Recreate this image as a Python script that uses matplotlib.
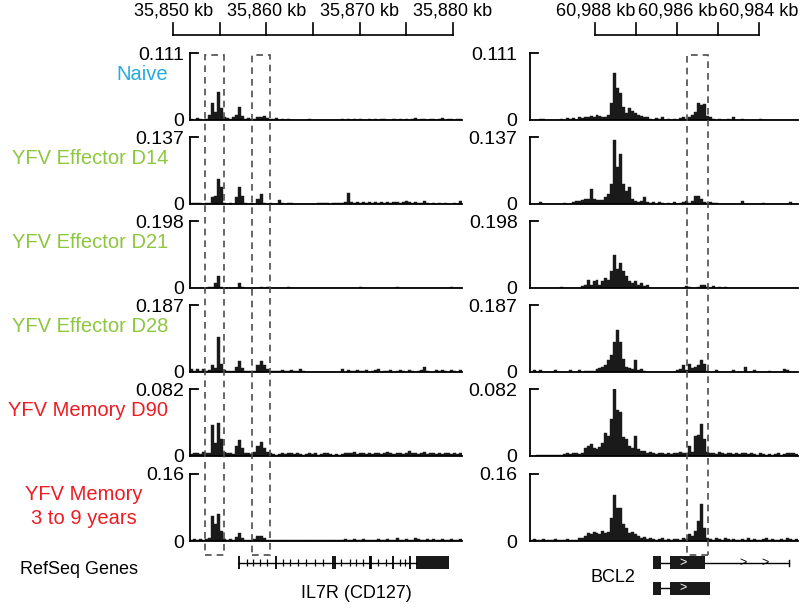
import numpy as np
import matplotlib
matplotlib.use('Agg')
import matplotlib.pyplot as plt
from matplotlib.patches import Rectangle
from matplotlib.transforms import blended_transform_factory

plt.rcParams['font.family'] = ['Liberation Sans', 'DejaVu Sans']

# --- data -------------------------------------------------------------
samples = ['Naive', 'YFV Effector D14', 'YFV Effector D21', 'YFV Effector D28',
           'YFV Memory D90', 'YFV Memory\n3 to 9 years']
sample_colors = ['#27aae1', '#8dc63f', '#8dc63f', '#8dc63f', '#ed1c24', '#ed1c24']
y_max = [0.111, 0.137, 0.198, 0.187, 0.082, 0.16]
y_max_labels = ['0.111', '0.137', '0.198', '0.187', '0.082', '0.16']

# genomic windows (kb)
il7r_range = (35851.8, 35881.0)
bcl2_range = (60989.6, 60983.05)   # minus strand, drawn reversed
il7r_scale_ticks = [35850, 35855, 35860, 35865, 35870, 35875, 35880]
il7r_scale_labels = ['35,850 kb', '35,860 kb', '35,870 kb', '35,880 kb']
bcl2_scale_ticks = [60988, 60987, 60986, 60985, 60984]
bcl2_scale_labels = ['60,988 kb', '60,986 kb', '60,984 kb']

# highlighted regions (kb)
il7r_boxes = [(35853.4, 35855.45), (35858.45, 35860.4)]
bcl2_boxes = [(60985.76, 60985.24)]

# signal, % of each track's max, 90 equal bins over the window
il7r_naive = [2, 0, 3, 1, 0, 2, 8, 25, 12, 42,
              18, 4, 3, 2, 4, 8, 20, 6, 2, 3,
              1, 2, 5, 4, 6, 3, 2, 1, 3, 0,
              2, 0, 1, 0, 0, 0, 0, 0, 0, 2,
              0, 0, 0, 0, 0, 0, 0, 0, 0, 0,
              1, 0, 1, 0, 2, 0, 1, 0, 0, 2,
              0, 1, 0, 1, 2, 0, 0, 1, 0, 1,
              0, 2, 0, 1, 3, 0, 1, 2, 0, 1,
              2, 0, 1, 3, 0, 2, 1, 0, 2, 1]
il7r_d14 = [1, 1, 1, 1, 0, 1, 2, 10, 12, 38,
            25, 2, 0, 1, 0, 10, 25, 12, 2, 0,
            1, 0, 8, 15, 2, 0, 1, 0, 0, 6,
            2, 0, 2, 2, 0, 0, 0, 0, 0, 0,
            0, 0, 1, 1, 2, 1, 0, 2, 2, 1,
            2, 3, 17, 3, 2, 3, 2, 3, 1, 3,
            2, 3, 2, 3, 2, 3, 2, 3, 3, 2,
            3, 5, 3, 2, 3, 2, 2, 5, 2, 0,
            2, 0, 2, 0, 2, 0, 0, 2, 0, 5]
il7r_d21 = [0, 0, 0, 0, 0, 0, 1, 2, 8, 18,
            1, 0, 0, 0, 0, 0, 8, 1, 0, 0,
            0, 0, 0, 1, 0, 1, 0, 0, 0, 0,
            0, 0, 2, 0, 0, 0, 0, 0, 0, 0,
            0, 0, 0, 0, 0, 0, 0, 0, 0, 0,
            0, 0, 0, 0, 0, 0, 2, 0, 0, 0,
            0, 0, 0, 0, 0, 0, 0, 0, 2, 0,
            0, 0, 0, 0, 0, 0, 0, 0, 0, 0,
            0, 0, 0, 0, 0, 0, 2, 0, 0, 0]
il7r_d28 = [5, 2, 4, 1, 5, 2, 3, 10, 6, 52,
            12, 3, 1, 2, 1, 8, 17, 6, 2, 1,
            2, 1, 10, 17, 10, 4, 1, 2, 1, 2,
            3, 2, 2, 3, 2, 2, 5, 1, 0, 0,
            0, 0, 0, 0, 0, 0, 0, 0, 0, 0,
            4, 0, 3, 1, 2, 3, 1, 2, 3, 0,
            2, 3, 4, 0, 2, 1, 3, 0, 2, 3,
            2, 0, 3, 2, 0, 2, 3, 7, 2, 0,
            0, 3, 2, 3, 2, 0, 3, 2, 0, 3]
il7r_d90 = [3, 4, 5, 3, 6, 4, 5, 46, 20, 50,
            25, 6, 5, 4, 3, 15, 24, 12, 5, 4,
            3, 6, 15, 21, 12, 6, 4, 3, 2, 3,
            4, 3, 5, 4, 3, 4, 3, 2, 3, 4,
            3, 4, 2, 3, 4, 5, 3, 2, 3, 2,
            3, 4, 5, 4, 6, 3, 4, 5, 3, 4,
            3, 5, 4, 3, 4, 6, 4, 3, 4, 5,
            3, 4, 7, 4, 5, 3, 4, 6, 3, 4,
            5, 3, 4, 3, 5, 4, 3, 4, 3, 5]
il7r_mem = [2, 3, 2, 3, 2, 3, 4, 37, 25, 41,
            15, 3, 2, 3, 2, 6, 12, 4, 2, 1,
            2, 3, 8, 7, 4, 2, 1, 2, 1, 2,
            2, 1, 2, 1, 2, 2, 1, 2, 2, 1,
            1, 2, 1, 2, 1, 2, 2, 1, 2, 2,
            2, 3, 2, 1, 3, 2, 2, 3, 2, 2,
            2, 2, 3, 2, 2, 3, 2, 2, 4, 2,
            2, 3, 2, 2, 4, 3, 2, 2, 3, 2,
            3, 2, 2, 3, 2, 2, 3, 2, 2, 3]

bcl2_naive = [0, 0, 0, 2, 2, 0, 0, 0, 0, 0,
              2, 0, 3, 2, 3, 0, 4, 3, 5, 4,
              6, 5, 7, 6, 4, 5, 8, 25, 70, 48,
              40, 20, 10, 18, 14, 10, 7, 6, 5, 4,
              2, 0, 3, 2, 5, 0, 2, 0, 2, 0,
              3, 4, 2, 4, 8, 12, 25, 22, 24, 6,
              5, 2, 0, 2, 0, 0, 2, 0, 4, 0,
              0, 2, 0, 0, 0, 0, 0, 2, 0, 0,
              0, 0, 0, 0, 0, 0, 0, 0, 0, 0]
bcl2_d14 = [0, 0, 0, 3, 0, 0, 0, 0, 0, 0,
            0, 2, 0, 0, 3, 5, 4, 6, 8, 8,
            22, 8, 6, 6, 6, 10, 15, 30, 96, 55,
            74, 30, 20, 25, 8, 5, 3, 5, 10, 3,
            2, 3, 0, 3, 2, 0, 2, 0, 3, 0,
            2, 3, 4, 2, 5, 12, 12, 8, 3, 2,
            3, 2, 2, 0, 0, 0, 0, 0, 0, 0,
            0, 4, 0, 0, 0, 0, 0, 0, 2, 0,
            0, 0, 0, 0, 0, 0, 0, 3, 0, 0]
bcl2_d21 = [0, 0, 0, 0, 0, 0, 0, 0, 0, 0,
            2, 0, 0, 0, 0, 0, 0, 3, 4, 12,
            5, 10, 12, 5, 10, 15, 12, 25, 49, 28,
            37, 25, 18, 10, 8, 10, 4, 8, 3, 5,
            0, 0, 0, 0, 0, 0, 0, 0, 0, 0,
            0, 0, 3, 2, 0, 0, 2, 4, 5, 2,
            0, 3, 0, 2, 0, 2, 0, 0, 0, 0,
            0, 0, 0, 0, 0, 0, 0, 0, 0, 0,
            0, 0, 0, 0, 0, 0, 0, 0, 0, 0]
bcl2_d28 = [0, 3, 0, 3, 0, 0, 0, 0, 3, 0,
            0, 0, 0, 3, 0, 0, 3, 0, 2, 2,
            2, 2, 4, 6, 8, 10, 18, 25, 45, 63,
            45, 20, 8, 6, 4, 18, 3, 4, 2, 0,
            0, 0, 0, 0, 0, 0, 0, 0, 0, 3,
            5, 10, 3, 12, 6, 8, 10, 18, 12, 2,
            0, 0, 3, 0, 0, 0, 0, 0, 3, 0,
            0, 0, 8, 0, 0, 3, 0, 0, 0, 0,
            2, 0, 0, 0, 0, 4, 3, 0, 0, 0]
bcl2_d90 = [0, 0, 1, 2, 1, 2, 1, 1, 2, 1,
            2, 3, 4, 3, 4, 5, 3, 5, 12, 15,
            18, 12, 10, 14, 20, 35, 30, 55, 100, 69,
            65, 28, 25, 15, 12, 30, 10, 8, 8, 5,
            6, 4, 3, 4, 5, 3, 4, 3, 5, 4,
            6, 4, 5, 15, 6, 30, 32, 48, 25, 6,
            4, 5, 3, 6, 4, 3, 5, 4, 3, 4,
            3, 4, 5, 3, 4, 3, 2, 4, 3, 2,
            3, 2, 3, 4, 2, 3, 4, 5, 4, 3]
bcl2_mem = [2, 3, 1, 2, 3, 2, 1, 2, 3, 2,
            1, 2, 3, 2, 1, 2, 4, 4, 8, 12,
            10, 14, 12, 10, 15, 12, 14, 35, 68, 50,
            50, 25, 20, 12, 14, 10, 8, 5, 6, 3,
            4, 3, 2, 3, 4, 2, 3, 2, 3, 3,
            2, 4, 3, 10, 8, 15, 30, 55, 20, 5,
            3, 2, 4, 3, 2, 5, 3, 2, 3, 2,
            2, 3, 2, 4, 2, 3, 2, 2, 3, 4,
            2, 3, 2, 2, 3, 2, 4, 3, 2, 3]

il7r_tracks = [il7r_naive, il7r_d14, il7r_d21, il7r_d28, il7r_d90, il7r_mem]
bcl2_tracks = [bcl2_naive, bcl2_d14, bcl2_d21, bcl2_d28, bcl2_d90, bcl2_mem]

# gene models (kb)
il7r_tx = (35857.08, 35876.09, 35879.58)   # start, last exon start, end
il7r_exons = [35857.08, 35861.01, 35867.15, 35867.34, 35871.09, 35871.27,
              35873.59, 35875.37]
il7r_arrows = [35857.87, 35858.58, 35859.30, 35860.02, 35861.80, 35862.51,
               35863.41, 35864.30, 35865.19, 35866.08, 35868.05, 35868.94,
               35869.66, 35870.37, 35871.98, 35872.87, 35874.30, 35874.84]
bcl2_small_exon = (60986.59, 60986.41)
bcl2_tx1_block = (60986.17, 60985.32)
bcl2_tx2_block = (60986.17, 60985.20)
bcl2_tx1_end = 60983.27
bcl2_tx1_arrows = [60984.39, 60983.85]
bcl2_block_arrow = 60985.85

# --- layout -----------------------------------------------------------
W, H = 800, 609
fig = plt.figure(figsize=(W / 100, H / 100), dpi=100)


def px_axes(x0, y0, x1, y1):
    return fig.add_axes([x0 / W, 1 - y1 / H, (x1 - x0) / W, (y1 - y0) / H])


cols = [(190, 462, il7r_range, il7r_tracks, 4),
        (530, 798, bcl2_range, bcl2_tracks, 9)]
row_top = [53, 137, 221, 305, 389, 474]
track_h = 67
bar_color = '#1a1a1a'

top_axes = []
for x0, x1, xr, tracks, pad in cols:
    for i, vals in enumerate(tracks):
        ax = px_axes(x0, row_top[i], x1, row_top[i] + track_h)
        n = len(vals)
        edges = np.linspace(xr[0], xr[1], n + 1)
        centers = (edges[:-1] + edges[1:]) / 2
        w = abs(edges[1] - edges[0])
        ax.bar(centers, np.array(vals) / 100 * y_max[i], width=w,
               color=bar_color, edgecolor=bar_color, linewidth=0.3)
        ax.set_xlim(xr)
        ax.set_ylim(0, y_max[i])
        for s in ['top', 'right']:
            ax.spines[s].set_visible(False)
        ax.spines['left'].set_linewidth(1.3)
        ax.spines['bottom'].set_linewidth(1.3)
        ax.set_xticks([])
        ax.set_yticks([0, y_max[i]])
        ax.set_yticklabels(['0', y_max_labels[i]], fontsize=14)
        ax.tick_params(axis='y', length=0, pad=pad)
        ax.plot([0, 8 / (x1 - x0)], [1, 1], transform=ax.transAxes,
                color='black', lw=1.3, clip_on=False)
        if i == 0:
            top_axes.append(ax)

# row labels
for i, name in enumerate(samples):
    if '\n' in name:
        fig.text(84 / W, 1 - (row_top[i] + 11) / H, name, ha='center', va='top',
                 multialignment='center', color=sample_colors[i], fontsize=14.5,
                 linespacing=1.3)
    else:
        fig.text(168 / W, 1 - (row_top[i] + 21) / H, name, ha='right', va='center',
                 color=sample_colors[i], fontsize=14.5)

# coordinate scale bars
scales = [(190, 462, il7r_range, il7r_scale_ticks, il7r_scale_labels),
          (530, 798, bcl2_range, bcl2_scale_ticks, bcl2_scale_labels)]
for x0, x1, xr, ticks, labels in scales:
    ax = px_axes(x0, 0, x1, 45)
    ax.set_xlim(xr)
    ax.set_ylim(45, 0)
    ax.axis('off')
    ax.plot([ticks[0], ticks[-1]], [35, 35], color='black', lw=1.2, clip_on=False)
    for t in ticks:
        ax.plot([t, t], [23, 35], color='black', lw=1.2, clip_on=False)
    for t, lab in zip(ticks[::2], labels):
        ax.text(t, 11, lab, ha='center', va='center', fontsize=13, clip_on=False)

# dashed highlight boxes
box_y0, box_y1 = 1 - 555 / H, 1 - 55 / H
for ax, boxes in zip(top_axes, [il7r_boxes, bcl2_boxes]):
    tr = blended_transform_factory(ax.transData, fig.transFigure)
    for a, b in boxes:
        rect = Rectangle((min(a, b), box_y0), abs(b - a), box_y1 - box_y0,
                         transform=tr, fill=False, edgecolor='#4d4d4d',
                         linestyle=(0, (4, 3)), lw=1.2, clip_on=False)
        fig.add_artist(rect)

# gene tracks
gx = px_axes(190, 545, 462, 609)
gx.set_xlim(il7r_range)
gx.set_ylim(609, 545)
gx.axis('off')
gx.plot([il7r_tx[0], il7r_tx[1]], [562.5, 562.5], color='black', lw=1)
gx.add_patch(Rectangle((il7r_tx[1], 556), il7r_tx[2] - il7r_tx[1], 13,
                       color='#1a1a1a', lw=0))
gx.vlines(il7r_exons, 556, 569, color='black', lw=1.3)
gx.vlines(il7r_arrows, 559, 566, color='black', lw=0.9)
gx.text((356 - 190) / 272, 593, 'IL7R (CD127)',
        transform=blended_transform_factory(gx.transAxes, gx.transData),
        ha='center', va='center', fontsize=13)

bx = px_axes(530, 545, 798, 609)
bx.set_xlim(bcl2_range)
bx.set_ylim(609, 545)
bx.axis('off')
for yc, block, end in [(562.5, bcl2_tx1_block, bcl2_tx1_end),
                       (588, bcl2_tx2_block, None)]:
    bx.add_patch(Rectangle((bcl2_small_exon[1], yc - 6.5),
                           bcl2_small_exon[0] - bcl2_small_exon[1], 13,
                           color='#1a1a1a', lw=0))
    bx.plot([bcl2_small_exon[1], block[0]], [yc, yc], color='black', lw=1)
    bx.add_patch(Rectangle((block[1], yc - 6.5), block[0] - block[1], 13,
                           color='#1a1a1a', lw=0))
    bx.text(bcl2_block_arrow, yc, '>', color='white', ha='center',
            va='center', fontsize=9)
    if end is not None:
        bx.plot([block[1], end], [yc, yc], color='black', lw=1)
        for a in bcl2_tx1_arrows:
            bx.text(a, yc, '>', color='black', ha='center', va='center', fontsize=9)
        bx.plot([end, end], [yc - 3, yc + 3], color='black', lw=1)
bx.text((613 - 530) / 268, 578, 'BCL2',
        transform=blended_transform_factory(bx.transAxes, bx.transData),
        ha='center', va='center', fontsize=13)

fig.text(79 / W, 1 - 569 / H, 'RefSeq Genes', ha='center', va='center', fontsize=13)

fig.savefig('out.png', dpi=100)
